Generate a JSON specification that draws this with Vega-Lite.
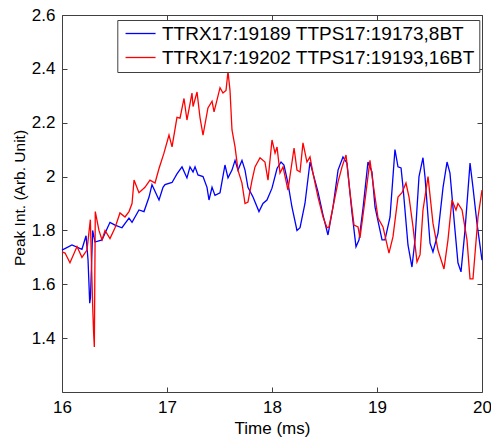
{
  "$schema": "https://vega.github.io/schema/vega-lite/v6.json",
  "width": 420,
  "height": 377,
  "autosize": {"type": "none"},
  "padding": {"left": 62, "top": 15, "right": 9, "bottom": 45},
  "background": "white",
  "config": {
    "view": {"stroke": null},
    "font": "Liberation Sans",
    "axis": {
      "domainColor": "#404040", "tickColor": "#404040", "grid": false,
      "labelColor": "black", "titleColor": "black", "labelFlush": false, "labelOverlap": false,
      "labelFont": "Liberation Sans", "titleFont": "Liberation Sans", "titleFontWeight": "normal",
      "labelFontSize": 17, "tickSize": -5, "labelPadding": 12, "domainWidth": 1, "tickWidth": 1
    }
  },
  "datasets": {
    "blue": [
      {"time":16.000,"value":1.727},{"time":16.095,"value":1.746},{"time":16.190,"value":1.73},{"time":16.229,"value":1.78},
      {"time":16.248,"value":1.69},{"time":16.264,"value":1.53},{"time":16.271,"value":1.55},{"time":16.292,"value":1.80},
      {"time":16.314,"value":1.757},{"time":16.381,"value":1.765},{"time":16.457,"value":1.83},{"time":16.505,"value":1.82},
      {"time":16.571,"value":1.81},{"time":16.638,"value":1.846},{"time":16.667,"value":1.83},{"time":16.733,"value":1.876},
      {"time":16.781,"value":1.87},{"time":16.829,"value":1.924},{"time":16.857,"value":1.97},{"time":16.924,"value":1.913},
      {"time":16.962,"value":1.96},{"time":16.981,"value":1.97},{"time":17.048,"value":1.978},{"time":17.095,"value":2.01},
      {"time":17.143,"value":2.036},{"time":17.190,"value":1.995},{"time":17.219,"value":2.036},{"time":17.248,"value":2.017},
      {"time":17.267,"value":2.036},{"time":17.295,"value":2.006},{"time":17.343,"value":2.0},{"time":17.381,"value":1.96},
      {"time":17.400,"value":1.913},{"time":17.429,"value":1.96},{"time":17.457,"value":1.93},{"time":17.505,"value":1.94},
      {"time":17.552,"value":2.043},{"time":17.581,"value":1.995},{"time":17.619,"value":2.024},{"time":17.648,"value":2.06},
      {"time":17.676,"value":2.024},{"time":17.714,"value":2.06},{"time":17.743,"value":2.024},{"time":17.771,"value":1.96},
      {"time":17.819,"value":1.924},{"time":17.876,"value":1.87},{"time":17.914,"value":1.90},{"time":17.952,"value":1.913},
      {"time":18.000,"value":1.957},{"time":18.048,"value":2.03},{"time":18.086,"value":2.054},{"time":18.114,"value":2.043},
      {"time":18.152,"value":1.976},{"time":18.190,"value":1.887},{"time":18.238,"value":1.80},{"time":18.267,"value":1.81},
      {"time":18.314,"value":1.90},{"time":18.362,"value":2.054},{"time":18.390,"value":2.013},{"time":18.438,"value":1.943},
      {"time":18.486,"value":1.857},{"time":18.533,"value":1.783},{"time":18.581,"value":1.887},{"time":18.629,"value":2.024},
      {"time":18.676,"value":2.073},{"time":18.714,"value":2.05},{"time":18.762,"value":1.865},{"time":18.800,"value":1.739},
      {"time":18.829,"value":1.765},{"time":18.867,"value":1.883},{"time":18.914,"value":2.054},{"time":18.952,"value":2.017},
      {"time":18.981,"value":1.887},{"time":19.048,"value":1.765},{"time":19.076,"value":1.765},{"time":19.124,"value":1.85},
      {"time":19.171,"value":2.10},{"time":19.200,"value":2.036},{"time":19.229,"value":2.032},{"time":19.248,"value":1.96},
      {"time":19.295,"value":1.746},{"time":19.333,"value":1.664},{"time":19.362,"value":1.765},{"time":19.400,"value":2.0},
      {"time":19.438,"value":2.07},{"time":19.457,"value":2.0},{"time":19.505,"value":1.753},{"time":19.533,"value":1.72},
      {"time":19.581,"value":1.79},{"time":19.629,"value":1.96},{"time":19.667,"value":2.054},{"time":19.695,"value":2.013},
      {"time":19.743,"value":1.80},{"time":19.771,"value":1.68},{"time":19.800,"value":1.646},{"time":19.838,"value":1.80},
      {"time":19.886,"value":2.05},{"time":19.914,"value":1.96},{"time":19.952,"value":1.827},{"time":20.000,"value":1.69}
    ],
    "red": [
      {"time":16.000,"value":1.72},{"time":16.029,"value":1.716},{"time":16.076,"value":1.68},{"time":16.143,"value":1.74},
      {"time":16.190,"value":1.70},{"time":16.238,"value":1.727},{"time":16.270,"value":1.84},{"time":16.292,"value":1.52},
      {"time":16.301,"value":1.42},{"time":16.308,"value":1.367},{"time":16.317,"value":1.87},{"time":16.352,"value":1.80},
      {"time":16.381,"value":1.765},{"time":16.410,"value":1.80},{"time":16.457,"value":1.77},{"time":16.505,"value":1.81},
      {"time":16.552,"value":1.865},{"time":16.600,"value":1.85},{"time":16.638,"value":1.87},{"time":16.667,"value":1.90},
      {"time":16.686,"value":1.987},{"time":16.733,"value":1.94},{"time":16.790,"value":1.96},{"time":16.838,"value":1.987},
      {"time":16.886,"value":1.976},{"time":16.924,"value":2.03},{"time":16.971,"value":2.087},{"time":17.019,"value":2.154},
      {"time":17.048,"value":2.11},{"time":17.095,"value":2.22},{"time":17.124,"value":2.217},{"time":17.162,"value":2.29},
      {"time":17.190,"value":2.21},{"time":17.238,"value":2.31},{"time":17.248,"value":2.26},{"time":17.286,"value":2.314},
      {"time":17.314,"value":2.22},{"time":17.343,"value":2.154},{"time":17.390,"value":2.255},{"time":17.429,"value":2.28},
      {"time":17.448,"value":2.24},{"time":17.476,"value":2.284},{"time":17.505,"value":2.33},{"time":17.533,"value":2.31},
      {"time":17.562,"value":2.32},{"time":17.581,"value":2.39},{"time":17.600,"value":2.32},{"time":17.619,"value":2.173},
      {"time":17.648,"value":2.11},{"time":17.676,"value":2.024},{"time":17.714,"value":1.976},{"time":17.743,"value":1.90},
      {"time":17.771,"value":1.905},{"time":17.810,"value":1.987},{"time":17.838,"value":2.036},{"time":17.886,"value":2.07},
      {"time":17.933,"value":2.054},{"time":17.962,"value":1.987},{"time":18.000,"value":2.136},{"time":18.029,"value":2.087},
      {"time":18.048,"value":2.11},{"time":18.076,"value":2.013},{"time":18.105,"value":2.036},{"time":18.152,"value":1.95},
      {"time":18.210,"value":2.106},{"time":18.238,"value":2.024},{"time":18.267,"value":2.017},{"time":18.295,"value":2.125},
      {"time":18.333,"value":2.054},{"time":18.362,"value":2.073},{"time":18.390,"value":2.013},{"time":18.438,"value":1.924},
      {"time":18.486,"value":1.85},{"time":18.524,"value":1.81},{"time":18.543,"value":1.813},{"time":18.581,"value":1.887},
      {"time":18.629,"value":1.98},{"time":18.667,"value":2.036},{"time":18.705,"value":2.08},{"time":18.743,"value":1.94},
      {"time":18.781,"value":1.82},{"time":18.819,"value":1.813},{"time":18.838,"value":1.772},{"time":18.886,"value":1.913},
      {"time":18.933,"value":2.06},{"time":18.962,"value":1.976},{"time":19.010,"value":1.846},{"time":19.057,"value":1.813},
      {"time":19.114,"value":1.716},{"time":19.152,"value":1.776},{"time":19.200,"value":1.924},{"time":19.238,"value":1.94},
      {"time":19.276,"value":1.976},{"time":19.305,"value":1.924},{"time":19.343,"value":1.813},{"time":19.381,"value":1.683},
      {"time":19.410,"value":1.71},{"time":19.438,"value":1.876},{"time":19.486,"value":2.0},{"time":19.533,"value":1.827},
      {"time":19.581,"value":1.727},{"time":19.638,"value":1.657},{"time":19.676,"value":1.765},{"time":19.714,"value":1.913},
      {"time":19.752,"value":1.876},{"time":19.771,"value":1.90},{"time":19.810,"value":1.876},{"time":19.857,"value":1.765},
      {"time":19.886,"value":1.62},{"time":19.914,"value":1.62},{"time":19.962,"value":1.85},{"time":20.000,"value":1.95}
    ]
  },
  "layer": [
    {
      "data": {"name": "blue"},
      "mark": {"type": "line", "strokeWidth": 1.3},
      "encoding": {
        "x": {"field": "time", "type": "quantitative",
          "scale": {"domain": [16, 20], "nice": false, "zero": false},
          "axis": {"orient": "bottom", "values": [16, 17, 18, 19, 20], "format": "~g",
            "title": "Time (ms)", "titleFontSize": 17, "titleBaseline": "alphabetic", "titleY": 41}},
        "y": {"field": "value", "type": "quantitative",
          "scale": {"domain": [1.2, 2.6], "nice": false, "zero": false},
          "axis": {"orient": "left", "values": [1.4, 1.6, 1.8, 2, 2.2, 2.4, 2.6], "format": "~g",
            "title": "Peak Int. (Arb. Unit)", "titleFontSize": 15.5, "titleX": -38, "titleY": 182.5,
            "titleAngle": 270, "titleBaseline": "alphabetic", "titleAlign": "center"}},
        "color": {"datum": "TTRX17:19189 TTPS17:19173,8BT", "type": "nominal",
          "scale": {"domain": ["TTRX17:19189 TTPS17:19173,8BT", "TTRX17:19202 TTPS17:19193,16BT"], "range": ["#0000ff", "#ff0000"]},
          "legend": {"title": null, "orient": "none", "legendX": 55.3, "legendY": 5, "direction": "vertical",
            "fillColor": "white", "strokeColor": "#404040", "padding": 4, "rowPadding": 4,
            "symbolType": "M-0.7,0H3.3", "symbolSize": 225, "symbolStrokeWidth": 1.3,
            "labelFontSize": 19, "labelFont": "Liberation Sans", "labelColor": "black", "labelOffset": 21.7, "labelLimit": 0}}
      }
    },
    {
      "data": {"name": "red"},
      "mark": {"type": "line", "strokeWidth": 1.3},
      "encoding": {
        "x": {"field": "time", "type": "quantitative",
          "scale": {"domain": [16, 20], "nice": false, "zero": false},
          "axis": {"orient": "top", "values": [16, 17, 18, 19, 20], "labels": false, "title": null}},
        "y": {"field": "value", "type": "quantitative",
          "scale": {"domain": [1.2, 2.6], "nice": false, "zero": false},
          "axis": {"orient": "right", "values": [1.4, 1.6, 1.8, 2, 2.2, 2.4, 2.6], "labels": false, "title": null}},
        "color": {"datum": "TTRX17:19202 TTPS17:19193,16BT", "type": "nominal",
          "scale": {"domain": ["TTRX17:19189 TTPS17:19173,8BT", "TTRX17:19202 TTPS17:19193,16BT"], "range": ["#0000ff", "#ff0000"]},
          "legend": {"title": null, "orient": "none", "legendX": 55.3, "legendY": 5, "direction": "vertical",
            "fillColor": "white", "strokeColor": "#404040", "padding": 4, "rowPadding": 4,
            "symbolType": "M-0.7,0H3.3", "symbolSize": 225, "symbolStrokeWidth": 1.3,
            "labelFontSize": 19, "labelFont": "Liberation Sans", "labelColor": "black", "labelOffset": 21.7, "labelLimit": 0}}
      }
    }
  ]
}
